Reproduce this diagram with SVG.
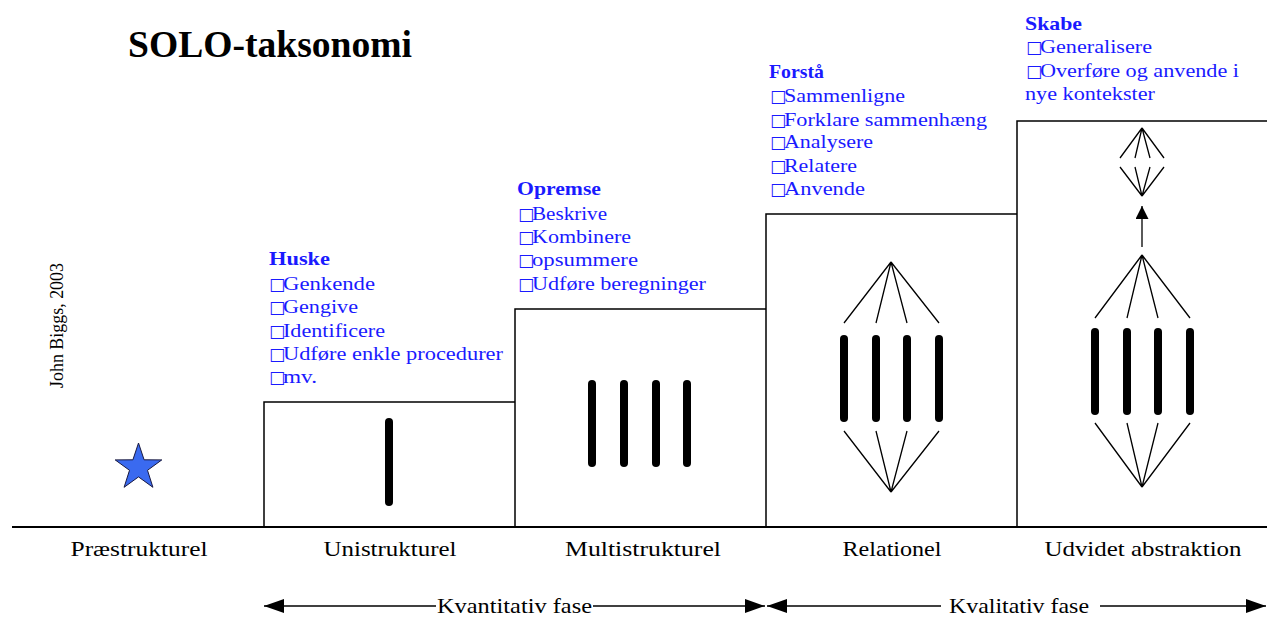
<svg xmlns="http://www.w3.org/2000/svg" width="1267" height="617" viewBox="0 0 1267 617">
<style>
text{font-family:"Liberation Serif","Times New Roman",serif;}
.t{font-size:37px;font-weight:bold;fill:#000}
.lbl{font-size:21px;fill:#000;text-anchor:middle}
.ph{font-size:21px;fill:#000}
.h{font-size:19px;font-weight:bold;fill:#1a1aff}
.i{font-size:19px;fill:#1a1aff}
.bx{font-family:"DejaVu Sans",sans-serif;font-size:17px}
.ln{stroke:#000;stroke-width:1.5;fill:none}
.bar{stroke:#000;stroke-width:8;stroke-linecap:round}
.th{stroke:#000;stroke-width:1.3;fill:none}
</style>
<defs>
<marker id="ah" viewBox="0 0 20 14" refX="20" refY="7" markerWidth="20" markerHeight="14" orient="auto-start-reverse" markerUnits="userSpaceOnUse"><path d="M0,0 L20,7 L0,14 z" fill="#000"/></marker>
<marker id="ah2" viewBox="0 0 13 13" refX="13" refY="6.5" markerWidth="13" markerHeight="13" orient="auto" markerUnits="userSpaceOnUse"><path d="M0,0 L13,6.5 L0,13 z" fill="#000"/></marker>
</defs>
<rect width="1267" height="617" fill="#fff"/>
<text class="t" x="128" y="57" textLength="284" lengthAdjust="spacingAndGlyphs">SOLO-taksonomi</text>
<text transform="translate(63,388) rotate(-90)" font-size="18" textLength="125" lengthAdjust="spacingAndGlyphs">John Biggs, 2003</text>

<g id="axis">
<line x1="12" y1="527" x2="1267" y2="527" stroke="#000" stroke-width="2"/>
</g>

<g id="prestructural">
<polygon points="138.5,443 144.1,459.8 161.8,459.9 147.5,470.3 152.9,487.3 138.5,476.9 124.1,487.3 129.5,470.3 115.2,459.9 132.9,459.8" fill="#3a6af0" stroke="#1a1a40" stroke-width="1"/>
<text class="lbl" x="139" y="556" textLength="137" lengthAdjust="spacingAndGlyphs">Præstrukturel</text>
</g>

<g id="unistructural">
<path class="ln" d="M264,527 V402 H515"/>
<line class="bar" x1="389" y1="422" x2="389" y2="502"/>
<text class="lbl" x="390" y="556" textLength="133" lengthAdjust="spacingAndGlyphs">Unistrukturel</text>
<text class="h" x="269" y="265" textLength="61" lengthAdjust="spacingAndGlyphs">Huske</text>
<text class="i" x="269" y="290"><tspan class="bx">□</tspan><tspan x="283" textLength="92" lengthAdjust="spacingAndGlyphs">Genkende</tspan></text>
<text class="i" x="269" y="313"><tspan class="bx">□</tspan><tspan x="283" textLength="75" lengthAdjust="spacingAndGlyphs">Gengive</tspan></text>
<text class="i" x="269" y="337"><tspan class="bx">□</tspan><tspan x="283" textLength="102" lengthAdjust="spacingAndGlyphs">Identificere</tspan></text>
<text class="i" x="269" y="360"><tspan class="bx">□</tspan><tspan x="283" textLength="220" lengthAdjust="spacingAndGlyphs">Udføre enkle procedurer</tspan></text>
<text class="i" x="269" y="383"><tspan class="bx">□</tspan><tspan x="283" textLength="34" lengthAdjust="spacingAndGlyphs">mv.</tspan></text>
</g>

<g id="multistructural">
<path class="ln" d="M515,527 V309 H766"/>
<line class="bar" x1="592" y1="384" x2="592" y2="463"/>
<line class="bar" x1="624" y1="384" x2="624" y2="463"/>
<line class="bar" x1="656" y1="384" x2="656" y2="463"/>
<line class="bar" x1="687" y1="384" x2="687" y2="463"/>
<text class="lbl" x="643" y="556" textLength="156" lengthAdjust="spacingAndGlyphs">Multistrukturel</text>
<text class="h" x="517" y="195" textLength="84" lengthAdjust="spacingAndGlyphs">Opremse</text>
<text class="i" x="518" y="220"><tspan class="bx">□</tspan><tspan x="532" textLength="75" lengthAdjust="spacingAndGlyphs">Beskrive</tspan></text>
<text class="i" x="518" y="243"><tspan class="bx">□</tspan><tspan x="532" textLength="99" lengthAdjust="spacingAndGlyphs">Kombinere</tspan></text>
<text class="i" x="518" y="266"><tspan class="bx">□</tspan><tspan x="532" textLength="106" lengthAdjust="spacingAndGlyphs">opsummere</tspan></text>
<text class="i" x="518" y="290"><tspan class="bx">□</tspan><tspan x="532" textLength="174" lengthAdjust="spacingAndGlyphs">Udføre beregninger</tspan></text>
</g>

<g id="relational">
<path class="ln" d="M766,527 V214 H1017"/>
<path class="th" d="M844,323 L891,262 L876,323 M907,323 L891,262 L939,323"/>
<line class="bar" x1="844" y1="339" x2="844" y2="418"/>
<line class="bar" x1="876" y1="339" x2="876" y2="418"/>
<line class="bar" x1="907" y1="339" x2="907" y2="418"/>
<line class="bar" x1="939" y1="339" x2="939" y2="418"/>
<path class="th" d="M844,431 L891,492 L876,431 M907,431 L891,492 L939,431"/>
<text class="lbl" x="892" y="556" textLength="99" lengthAdjust="spacingAndGlyphs">Relationel</text>
<text class="h" x="769" y="78" textLength="55" lengthAdjust="spacingAndGlyphs">Forstå</text>
<text class="i" x="770" y="102"><tspan class="bx">□</tspan><tspan x="784" textLength="121" lengthAdjust="spacingAndGlyphs">Sammenligne</tspan></text>
<text class="i" x="770" y="126"><tspan class="bx">□</tspan><tspan x="784" textLength="203" lengthAdjust="spacingAndGlyphs">Forklare sammenhæng</tspan></text>
<text class="i" x="770" y="148"><tspan class="bx">□</tspan><tspan x="784" textLength="89" lengthAdjust="spacingAndGlyphs">Analysere</tspan></text>
<text class="i" x="770" y="172"><tspan class="bx">□</tspan><tspan x="784" textLength="73" lengthAdjust="spacingAndGlyphs">Relatere</tspan></text>
<text class="i" x="770" y="195"><tspan class="bx">□</tspan><tspan x="784" textLength="81" lengthAdjust="spacingAndGlyphs">Anvende</tspan></text>
</g>

<g id="extended-abstract">
<path class="ln" d="M1017,527 V121 H1267"/>
<path class="th" d="M1120,158 L1142,128 L1135,158 M1150,158 L1142,128 L1164,158"/>
<path class="th" d="M1120,167 L1142,196 L1135,167 M1150,167 L1142,196 L1164,167"/>
<line class="th" x1="1142" y1="247" x2="1142" y2="206" marker-end="url(#ah2)"/>
<path class="th" d="M1095,318 L1142,255 L1127,318 M1158,318 L1142,255 L1190,318"/>
<line class="bar" x1="1095" y1="332" x2="1095" y2="411"/>
<line class="bar" x1="1127" y1="332" x2="1127" y2="411"/>
<line class="bar" x1="1158" y1="332" x2="1158" y2="411"/>
<line class="bar" x1="1190" y1="332" x2="1190" y2="411"/>
<path class="th" d="M1095,423 L1142,487 L1127,423 M1158,423 L1142,487 L1190,423"/>
<text class="lbl" x="1143" y="556" textLength="197" lengthAdjust="spacingAndGlyphs">Udvidet abstraktion</text>
<text class="h" x="1025" y="30" textLength="57" lengthAdjust="spacingAndGlyphs">Skabe</text>
<text class="i" x="1026" y="53"><tspan class="bx">□</tspan><tspan x="1040" textLength="112" lengthAdjust="spacingAndGlyphs">Generalisere</tspan></text>
<text class="i" x="1026" y="77"><tspan class="bx">□</tspan><tspan x="1040" textLength="199" lengthAdjust="spacingAndGlyphs">Overføre og anvende i</tspan></text>
<text class="i" x="1025" y="100" textLength="130" lengthAdjust="spacingAndGlyphs">nye kontekster</text>
</g>

<g id="connectors">
<line class="ln" x1="264" y1="606" x2="436" y2="606" marker-start="url(#ah)"/>
<line class="ln" x1="593" y1="606" x2="765" y2="606" marker-end="url(#ah)"/>
<text class="ph" x="437" y="613" textLength="155" lengthAdjust="spacingAndGlyphs">Kvantitativ fase</text>
<line class="ln" x1="767" y1="606" x2="941" y2="606" marker-start="url(#ah)"/>
<line class="ln" x1="1100" y1="606" x2="1266" y2="606" marker-end="url(#ah)"/>
<text class="ph" x="949" y="613" textLength="140" lengthAdjust="spacingAndGlyphs">Kvalitativ fase</text>
</g>
</svg>
